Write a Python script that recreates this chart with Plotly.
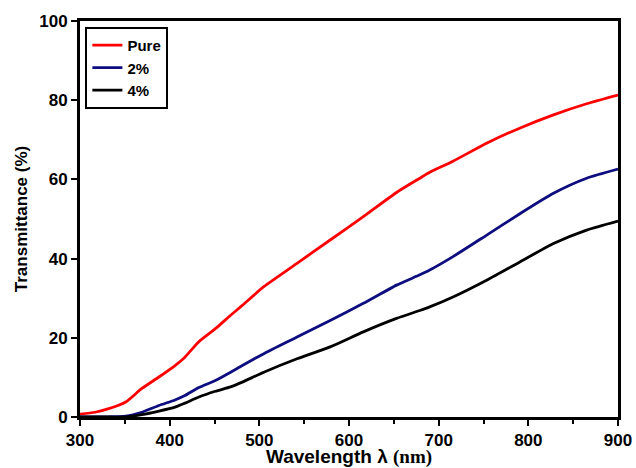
import plotly.graph_objects as go

wavelength = [300, 317, 332, 351, 369, 388, 406, 417, 432, 451, 468, 481, 505, 542,
              579, 616, 653, 679, 690, 716, 754, 791, 828, 865, 900]
pure = [0.7, 1.2, 2.1, 3.8, 7.2, 10.1, 13.0, 15.1, 18.9, 22.3, 25.7, 28.2, 32.9, 38.8,
        44.7, 50.6, 56.7, 60.3, 61.8, 64.6, 69.2, 73.0, 76.3, 79.1, 81.3]
two_pct = [0.0, 0.0, 0.05, 0.2, 1.2, 2.9, 4.3, 5.4, 7.4, 9.2, 11.3, 13.0, 16.0, 20.2,
           24.4, 28.7, 33.3, 35.9, 37.1, 40.5, 46.0, 51.4, 56.5, 60.3, 62.6]
four_pct = [0.0, 0.0, 0.0, 0.0, 0.6, 1.5, 2.5, 3.5, 5.0, 6.5, 7.6, 8.8, 11.3, 14.7,
            17.7, 21.5, 24.9, 26.9, 27.8, 30.3, 34.6, 39.2, 43.8, 47.2, 49.5]

series_names = ["Pure", "2%", "4%"]
series_colors = ["#FF0000", "#0D0D80", "#000000"]
x_ticks = [300, 400, 500, 600, 700, 800, 900]
y_ticks = [0, 20, 40, 60, 80, 100]

fig = go.Figure()
for name, vals, col in zip(series_names, [pure, two_pct, four_pct], series_colors):
    fig.add_trace(go.Scatter(x=wavelength, y=vals, mode="lines", name=name,
                             line=dict(color=col, width=2.8, shape="spline", smoothing=0.6)))

font_main = "Liberation Sans, Arial, sans-serif"
fig.update_layout(
    width=636, height=468,
    margin=dict(l=80, r=18, t=21, b=51, autoexpand=False),
    paper_bgcolor="white", plot_bgcolor="white",
    font=dict(family=font_main, size=16, color="black"),
    legend=dict(x=0.01, y=0.985, xanchor="left", yanchor="top",
                bordercolor="black", borderwidth=2, bgcolor="white",
                font=dict(family=font_main, size=15, color="black", weight="bold"),
                itemwidth=30, tracegroupgap=0),
    showlegend=True,
)
fig.update_xaxes(
    range=[300, 900], tickvals=x_ticks, ticktext=[f"<b>{v}</b>" for v in x_ticks],
    showgrid=False, zeroline=False, automargin=False,
    showline=True, linecolor="black", linewidth=3, mirror=True,
    ticks="outside", ticklen=6, tickwidth=2, tickcolor="black",
    minor=dict(tickvals=[350, 450, 550, 650, 750, 850], ticks="outside", ticklen=4,
               tickwidth=2, tickcolor="black"),
    tickfont=dict(size=17),
    title=dict(text="<b>Wavelength λ <span style='font-family:Liberation Serif'>(nm)</span></b>",
               font=dict(size=19), standoff=6),
)
fig.update_yaxes(
    range=[0, 100], tickvals=y_ticks, ticktext=[f"<b>{v}</b>" for v in y_ticks],
    showgrid=False, zeroline=False, automargin=False,
    showline=True, linecolor="black", linewidth=3, mirror=True,
    ticks="outside", ticklen=6, tickwidth=2, tickcolor="black",
    tickfont=dict(size=17),
    title=dict(text="<b>Transmittance (%)</b>", font=dict(size=17), standoff=8),
)

fig.write_html("out.html", config={"displayModeBar": False},
               post_script="document.body.style.margin='0';document.body.style.overflow='hidden';")
